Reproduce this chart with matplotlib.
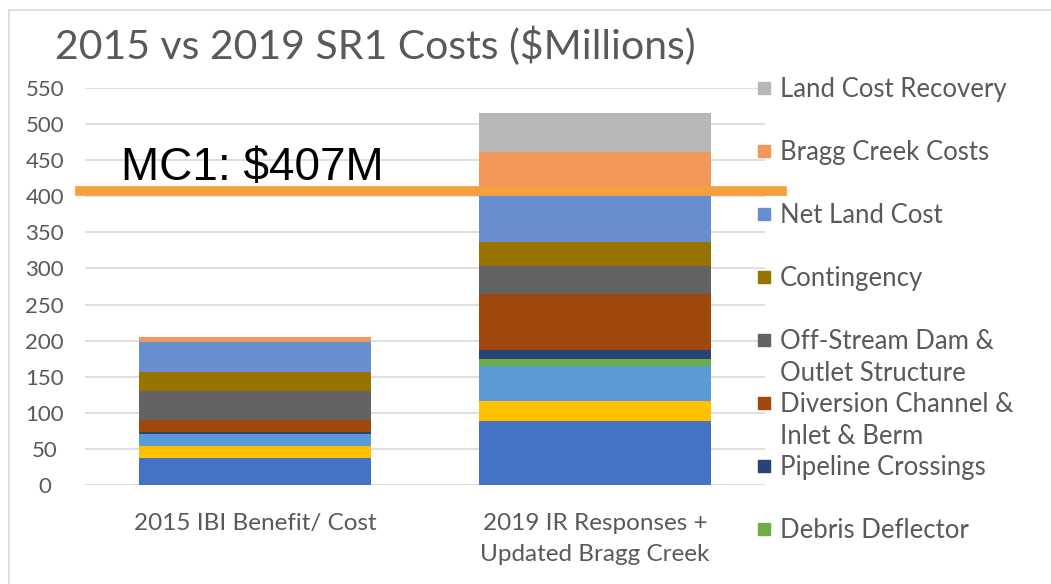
import matplotlib.pyplot as plt
from matplotlib.patches import Rectangle
from matplotlib.lines import Line2D

plt.rcParams['font.family'] = ['Lato', 'DejaVu Sans']

categories = ["2015 IBI Benefit/ Cost", "2019 IR Responses +\nUpdated Bragg Creek"]

# stacked components, bottom to top ($M)
base_cost = [37, 89]
yellow_cost = [17, 27]
light_blue_cost = [16, 49]
debris_deflector = [0, 9]
pipeline_crossings = [3.5, 13]
diversion_channel = [17, 77]
off_stream_dam = [40, 39]
contingency = [26, 33]
net_land_cost = [42, 75]
bragg_creek_costs = [7, 50]
land_cost_recovery = [0, 55]

series = [base_cost, yellow_cost, light_blue_cost, debris_deflector,
          pipeline_crossings, diversion_channel, off_stream_dam, contingency,
          net_land_cost, bragg_creek_costs, land_cost_recovery]
colors = ["#4472C4", "#FFC000", "#5B9BD5", "#70AD47", "#264478", "#9E480E",
          "#636363", "#997300", "#698ED0", "#F1975A", "#B7B7B7"]

legend_labels = ["Land Cost Recovery", "Bragg Creek Costs", "Net Land Cost",
                 "Contingency", "Off-Stream Dam &\nOutlet Structure",
                 "Diversion Channel &\nInlet & Berm", "Pipeline Crossings",
                 "Debris Deflector"]
legend_colors = ["#B7B7B7", "#F1975A", "#698ED0", "#997300", "#636363",
                 "#9E480E", "#264478", "#70AD47"]

mc1_value = 407
mc1_label = "MC1: $407M"

W, H = 1051, 584
fig = plt.figure(figsize=(W / 100, H / 100), dpi=100)
ax = fig.add_axes([85 / W, 99 / H, 680 / W, 397 / H])

x = range(len(categories))
bottom = [0, 0]
for vals, c in zip(series, colors):
    ax.bar(x, vals, bottom=bottom, width=0.68, color=c, zorder=2)
    bottom = [b + v for b, v in zip(bottom, vals)]

ax.set_xlim(-0.5, 1.5)
ax.set_ylim(0, 550)
ax.set_yticks(range(0, 551, 50))
ax.yaxis.grid(True, color="#D9D9D9", linewidth=1.2, zorder=0)
ax.set_axisbelow(True)
for s in ax.spines.values():
    s.set_visible(False)
ax.tick_params(length=0, labelcolor="#595959")
ax.tick_params(axis='y', labelsize=16, pad=29)
ax.tick_params(axis='x', labelsize=17.5, pad=20)
ax.set_xticks(list(x))
ax.set_xticklabels(categories, linespacing=1.6)
for lab in ax.get_yticklabels():
    lab.set_horizontalalignment('center')

# MC1 line and label
ax.axhline(mc1_value, xmin=-0.008, xmax=1.025, color="#F5A03C", linewidth=7,
           clip_on=False, zorder=5)
ax.text(-0.395, mc1_value + 1, mc1_label, fontsize=33, color="black",
        family=['Liberation Sans'], va='bottom', ha='left', zorder=6)

fig.text(55 / W, 1 - 46 / H, "2015 vs 2019 SR1 Costs ($Millions)", fontsize=29.5,
         color="#595959", va='center', ha='left')

# legend drawn by hand to keep fixed slot spacing
y0 = 88
for i, (lab, c) in enumerate(zip(legend_labels, legend_colors)):
    yy = y0 + i * 63
    fig.patches.append(Rectangle((758 / W, 1 - (yy + 6) / H), 12 / W, 12 / H,
                                 transform=fig.transFigure, color=c))
    fig.text(780 / W, 1 - (yy - 11) / H, lab, fontsize=18.5, color="#595959",
             va='top', ha='left', linespacing=1.33)

# chart border (top and left)
fig.add_artist(Line2D([9 / W, 1], [1 - 10 / H, 1 - 10 / H], color="#D9D9D9",
                      linewidth=1.2, transform=fig.transFigure))
fig.add_artist(Line2D([9 / W, 9 / W], [0, 1 - 10 / H], color="#D9D9D9",
                      linewidth=1.2, transform=fig.transFigure))

fig.savefig("out.png", dpi=100)
